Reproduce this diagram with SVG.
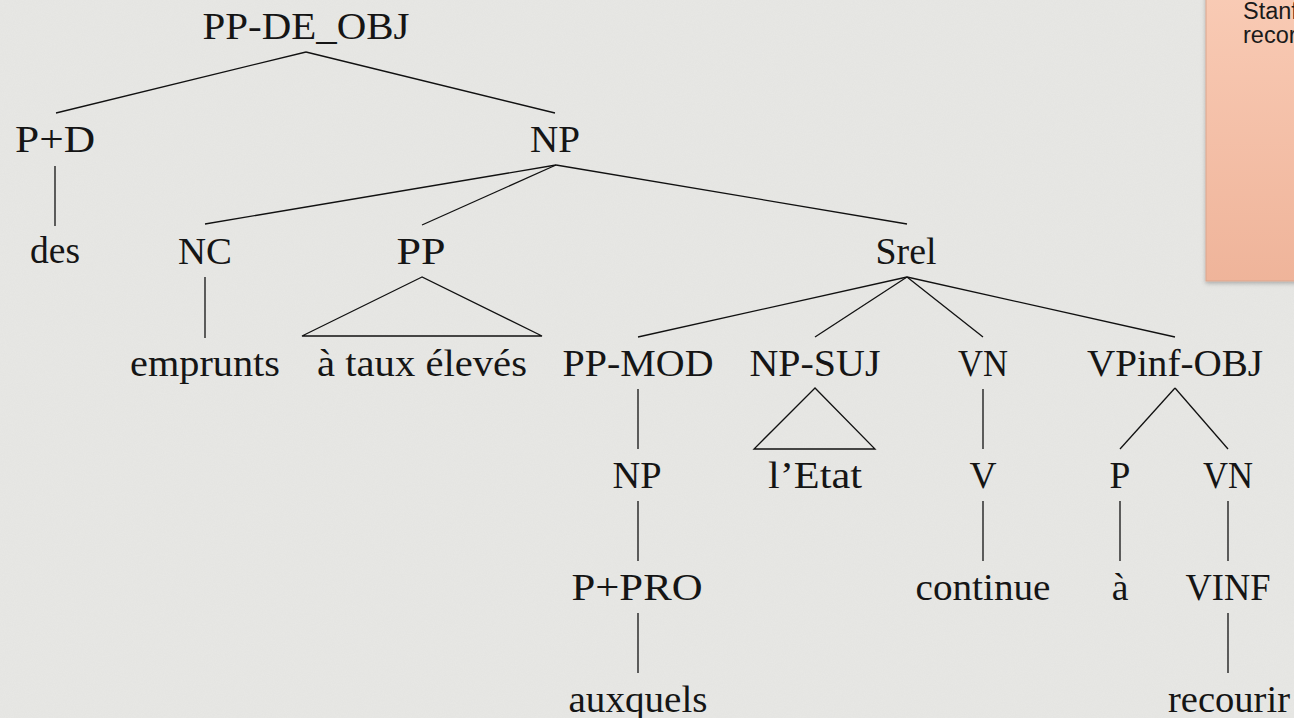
<svg xmlns="http://www.w3.org/2000/svg" width="1294" height="718" viewBox="0 0 1294 718">
  <defs>
    <style>
      .lbl { font-family: "Liberation Serif", "DejaVu Serif", serif; font-size: 37.5px; fill: #151515; text-anchor: middle; }
      .edge { stroke: #111; stroke-width: 1.3; fill: none; stroke-linecap: butt; }
      .note { font-family: "Liberation Sans", Arial, sans-serif; font-size: 23.5px; fill: #1a1a1a; }
    </style>
    <linearGradient id="noteFill" x1="0" y1="0" x2="0" y2="1">
      <stop offset="0" stop-color="#f9cbb5"/>
      <stop offset="1" stop-color="#efb49a"/>
    </linearGradient>
    <filter id="noteShadow" x="-20%" y="-10%" width="140%" height="130%">
      <feDropShadow dx="0" dy="2" stdDeviation="2" flood-color="#000" flood-opacity="0.25"/>
    </filter>
    <filter id="grain" x="0" y="0" width="100%" height="100%">
      <feTurbulence type="fractalNoise" baseFrequency="0.9" numOctaves="2" seed="3" result="n"/>
      <feColorMatrix in="n" type="matrix" values="0 0 0 0 0.5  0 0 0 0 0.5  0 0 0 0 0.5  0 0 0 0.18 0"/>
    </filter>
  </defs>

  <!-- linen background -->
  <rect x="0" y="0" width="1294" height="718" fill="#e8e8e5"/>
  <rect x="0" y="0" width="1294" height="718" filter="url(#grain)" opacity="0.5"/>

  <!-- sticky note in the corner -->
  <g id="note">
    <rect x="1206" y="-10" width="100" height="291" fill="url(#noteFill)" stroke="#d9a58e" stroke-width="1" filter="url(#noteShadow)"/>
    <text class="note" x="1243" y="19">Stanf</text>
    <text class="note" x="1243" y="43">recor</text>
  </g>

  <!-- tree branches -->
  <g id="connectors">
    <line class="edge" x1="306" y1="52" x2="56" y2="113"/>
    <line class="edge" x1="306" y1="52" x2="555" y2="113"/>
    <line class="edge" x1="55" y1="166" x2="55" y2="226"/>
    <line class="edge" x1="556" y1="165" x2="205" y2="224"/>
    <line class="edge" x1="556" y1="165" x2="422" y2="225"/>
    <line class="edge" x1="556" y1="165" x2="907" y2="224"/>
    <line class="edge" x1="205" y1="277" x2="205" y2="338"/>
    <polygon class="edge" points="422,277 302,336 542,336"/>
    <line class="edge" x1="907" y1="277" x2="638" y2="337"/>
    <line class="edge" x1="907" y1="277" x2="815" y2="337"/>
    <line class="edge" x1="907" y1="277" x2="983" y2="337"/>
    <line class="edge" x1="907" y1="277" x2="1175" y2="337"/>
    <line class="edge" x1="638" y1="389" x2="638" y2="449"/>
    <polygon class="edge" points="815,388 754,449 875,449"/>
    <line class="edge" x1="983" y1="389" x2="983" y2="449"/>
    <line class="edge" x1="1175" y1="388" x2="1120" y2="449"/>
    <line class="edge" x1="1175" y1="388" x2="1228" y2="449"/>
    <line class="edge" x1="638" y1="501" x2="638" y2="561"/>
    <line class="edge" x1="983" y1="501" x2="983" y2="561"/>
    <line class="edge" x1="1120" y1="501" x2="1120" y2="561"/>
    <line class="edge" x1="1228" y1="501" x2="1228" y2="561"/>
    <line class="edge" x1="638" y1="613" x2="638" y2="673"/>
    <line class="edge" x1="1228" y1="613" x2="1228" y2="673"/>
  </g>

  <!-- tree nodes -->
  <g id="n-ppdeobj"><text class="lbl" x="306" y="39" textLength="207" lengthAdjust="spacingAndGlyphs">PP-DE_OBJ</text></g>
  <g id="n-pd"><text class="lbl" x="55" y="152" textLength="80" lengthAdjust="spacingAndGlyphs">P+D</text></g>
  <g id="n-np"><text class="lbl" x="555" y="152" textLength="50" lengthAdjust="spacingAndGlyphs">NP</text></g>
  <g id="n-des"><text class="lbl" x="55" y="263" textLength="50" lengthAdjust="spacingAndGlyphs">des</text></g>
  <g id="n-nc"><text class="lbl" x="205" y="264" textLength="54" lengthAdjust="spacingAndGlyphs">NC</text></g>
  <g id="n-pp"><text class="lbl" x="421" y="264" textLength="49" lengthAdjust="spacingAndGlyphs">PP</text></g>
  <g id="n-srel"><text class="lbl" x="906" y="264" textLength="61" lengthAdjust="spacingAndGlyphs">Srel</text></g>
  <g id="n-emprunts"><text class="lbl" x="205" y="376" textLength="150" lengthAdjust="spacingAndGlyphs">emprunts</text></g>
  <g id="n-taux"><text class="lbl" x="422" y="376" textLength="210" lengthAdjust="spacingAndGlyphs">à taux élevés</text></g>
  <g id="n-ppmod"><text class="lbl" x="638" y="376" textLength="151" lengthAdjust="spacingAndGlyphs">PP-MOD</text></g>
  <g id="n-npsuj"><text class="lbl" x="815" y="376" textLength="131" lengthAdjust="spacingAndGlyphs">NP-SUJ</text></g>
  <g id="n-vn1"><text class="lbl" x="983" y="376" textLength="50" lengthAdjust="spacingAndGlyphs">VN</text></g>
  <g id="n-vpinf"><text class="lbl" x="1175" y="376" textLength="176" lengthAdjust="spacingAndGlyphs">VPinf-OBJ</text></g>
  <g id="n-np2"><text class="lbl" x="637" y="488" textLength="49" lengthAdjust="spacingAndGlyphs">NP</text></g>
  <g id="n-etat"><text class="lbl" x="815" y="488" textLength="94" lengthAdjust="spacingAndGlyphs">l’Etat</text></g>
  <g id="n-v"><text class="lbl" x="983" y="488">V</text></g>
  <g id="n-p"><text class="lbl" x="1120" y="488">P</text></g>
  <g id="n-vn2"><text class="lbl" x="1228" y="488" textLength="50" lengthAdjust="spacingAndGlyphs">VN</text></g>
  <g id="n-ppro"><text class="lbl" x="637" y="600" textLength="131" lengthAdjust="spacingAndGlyphs">P+PRO</text></g>
  <g id="n-continue"><text class="lbl" x="983" y="600" textLength="135" lengthAdjust="spacingAndGlyphs">continue</text></g>
  <g id="n-a"><text class="lbl" x="1120" y="600">à</text></g>
  <g id="n-vinf"><text class="lbl" x="1228" y="600" textLength="85" lengthAdjust="spacingAndGlyphs">VINF</text></g>
  <g id="n-auxquels"><text class="lbl" x="638" y="712" textLength="139" lengthAdjust="spacingAndGlyphs">auxquels</text></g>
  <g id="n-recourir"><text class="lbl" x="1229" y="712" textLength="122" lengthAdjust="spacingAndGlyphs">recourir</text></g>
</svg>
